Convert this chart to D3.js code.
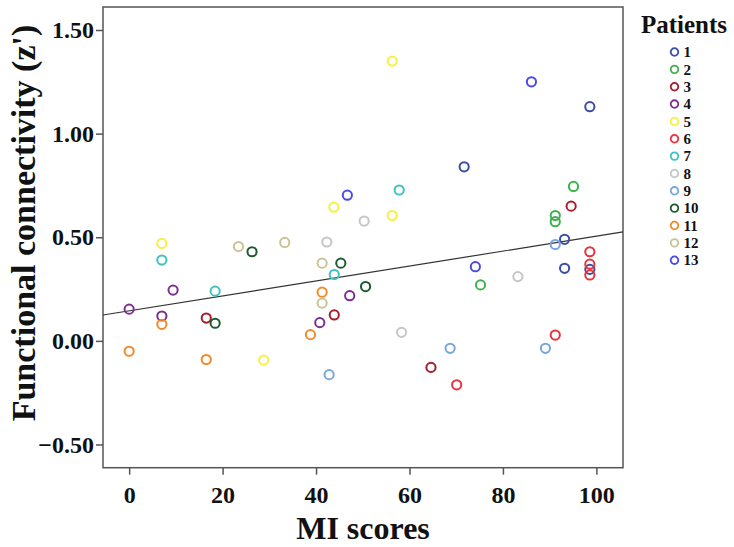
<!DOCTYPE html>
<html>
<head>
<meta charset="utf-8">
<script src="https://cdn.jsdelivr.net/npm/d3@7"></script>
<style>
  body { margin: 0; background: #fff; }
  svg text { font-family: "Liberation Serif", "Times New Roman", serif; font-weight: bold; }
</style>
</head>
<body>
<svg id="chart" width="734" height="547"></svg>
<script>
// patients and their MI scores / functional connectivity (z')
var patients = ["1", "2", "3", "4", "5", "6", "7", "8", "9", "10", "11", "12", "13"];
var miScores = [
  [98.6, 71.7, 93.2, 93.2, 98.6],
  [95.1, 91.2, 91.2, 75.2],
  [94.6, 16.5, 43.9, 64.6],
  [9.4, 0, 7.0, 47.2, 40.8],
  [56.3, 43.8, 56.3, 7.0, 28.8],
  [98.6, 98.6, 98.6, 91.2, 70.1],
  [57.8, 7.0, 43.9, 18.4],
  [50.3, 42.3, 83.2, 58.3],
  [91.2, 68.7, 89.1, 42.8],
  [26.3, 45.3, 50.6, 18.4],
  [41.3, 7.0, 38.8, 0, 16.5],
  [23.4, 33.3, 41.3, 41.3],
  [86.1, 46.7, 74.1]
];
var connectivity = [
  [1.13, 0.84, 0.49, 0.35, 0.345],
  [0.745, 0.605, 0.575, 0.27],
  [0.65, 0.11, 0.125, -0.128],
  [0.245, 0.153, 0.12, 0.218, 0.088],
  [1.35, 0.645, 0.605, 0.47, -0.093],
  [0.43, 0.37, 0.318, 0.028, -0.212],
  [0.728, 0.39, 0.32, 0.24],
  [0.578, 0.477, 0.31, 0.041],
  [0.465, -0.036, -0.036, -0.163],
  [0.43, 0.375, 0.262, 0.085],
  [0.235, 0.08, 0.03, -0.05, -0.09],
  [0.455, 0.475, 0.375, 0.182],
  [1.25, 0.703, 0.358]
];
var fitIntercept = 0.145;
var fitSlope = 0.0036;
var xTicks = [0, 20, 40, 60, 80, 100];
var yTicks = [-0.5, 0, 0.5, 1.0, 1.5];

var colors = ["#3b4ea5", "#3cb34a", "#a31f2b", "#7b2f8f", "#f5f23c", "#e6343c", "#3ec3bf",
  "#c6c6c6", "#7aa6dc", "#1b5c2e", "#f18a2a", "#c9c493", "#4a4ae8"];

var svg = d3.select("#chart");

var x = d3.scaleLinear().domain([-5.6, 105.7]).range([103, 623]);
var y = d3.scaleLinear().domain([-0.612, 1.611]).range([467.7, 7]);

// frame
svg.append("rect")
  .attr("x", x.range()[0]).attr("y", y.range()[1])
  .attr("width", x.range()[1] - x.range()[0])
  .attr("height", y.range()[0] - y.range()[1])
  .attr("fill", "none").attr("stroke", "#555").attr("stroke-width", 1.5);

// axes
var xAxis = svg.append("g")
  .attr("transform", "translate(0," + y.range()[0] + ")")
  .call(d3.axisBottom(x).tickValues(xTicks).tickSize(7).tickSizeOuter(0).tickPadding(11));
var yAxis = svg.append("g")
  .attr("transform", "translate(" + x.range()[0] + ",0)")
  .call(d3.axisLeft(y).tickValues(yTicks).tickSize(7).tickSizeOuter(0).tickPadding(2)
    .tickFormat(d3.format(".2f")));
[xAxis, yAxis].forEach(function (g) {
  g.select(".domain").remove();
  g.selectAll(".tick line").attr("stroke", "#555").attr("stroke-width", 1.5);
  g.selectAll(".tick text").attr("fill", "#111").style("font-size", "24px")
    .style("font-family", "Liberation Serif, serif").style("font-weight", "bold");
});

// fit line
svg.append("line")
  .attr("x1", x(x.domain()[0])).attr("y1", y(fitIntercept + fitSlope * x.domain()[0]))
  .attr("x2", x(x.domain()[1])).attr("y2", y(fitIntercept + fitSlope * x.domain()[1]))
  .attr("stroke", "#333").attr("stroke-width", 1.2);

// points
var pts = [];
patients.forEach(function (p, i) {
  miScores[i].forEach(function (s, j) {
    pts.push({ p: i, x: s, y: connectivity[i][j] });
  });
});
svg.append("g").selectAll("circle")
  .data(pts).enter().append("circle")
  .attr("cx", function (d) { return x(d.x); })
  .attr("cy", function (d) { return y(d.y); })
  .attr("r", 4.6)
  .attr("fill", "none")
  .attr("stroke", function (d) { return colors[d.p]; })
  .attr("stroke-width", 2);

// axis titles
svg.append("text")
  .attr("x", 363).attr("y", 539)
  .attr("text-anchor", "middle")
  .style("font-size", "32px").attr("fill", "#111")
  .text("MI scores");
svg.append("text")
  .attr("transform", "translate(35,223) rotate(-90)")
  .attr("text-anchor", "middle")
  .style("font-size", "34px").attr("fill", "#111")
  .text("Functional connectivity (z')");

// legend
var legend = svg.append("g");
legend.append("text")
  .attr("x", 684).attr("y", 33)
  .attr("text-anchor", "middle")
  .style("font-size", "25px").attr("fill", "#111")
  .text("Patients");
var item = legend.selectAll("g.item").data(patients).enter().append("g")
  .attr("transform", function (d, i) { return "translate(674.5," + (52 + i * 17.35) + ")"; });
item.append("circle").attr("r", 3.8).attr("fill", "none")
  .attr("stroke", function (d, i) { return colors[i]; }).attr("stroke-width", 1.8);
item.append("text").attr("x", 9).attr("dy", "0.35em")
  .style("font-size", "15px").attr("fill", "#111")
  .text(function (d) { return d; });
</script>
</body>
</html>
